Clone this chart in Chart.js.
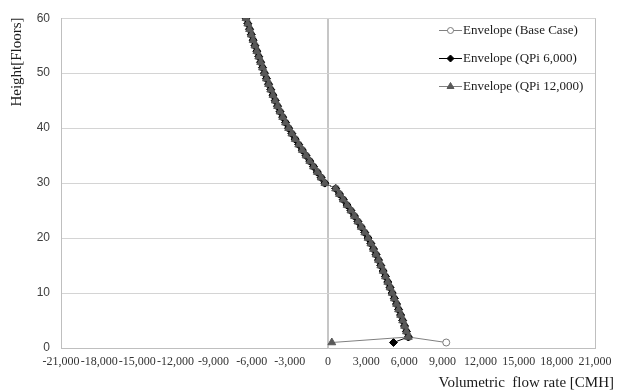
<!DOCTYPE html>
<html>
<head>
<meta charset="utf-8">
<script src="https://cdn.jsdelivr.net/npm/chart.js@4"></script>
<style>
  html, body { margin: 0; padding: 0; background: #fff; }
  #wrap { width: 628px; height: 391px; }
</style>
</head>
<body>
<div id="wrap"><canvas id="chart" width="628" height="391"></canvas></div>
<script>
// floors (y) and flow rates (x, CMH)
const floors = [
  1, 2, 3, 4, 5, 6, 7, 8, 9, 10,
  11, 12, 13, 14, 15, 16, 17, 18, 19, 20,
  21, 22, 23, 24, 25, 26, 27, 28, 29, 30,
  31, 32, 33, 34, 35, 36, 37, 38, 39, 40,
  41, 42, 43, 44, 45, 46, 47, 48, 49, 50,
  51, 52, 53, 54, 55, 56, 57, 58, 59, 60,
]

const baseCase = [
  9300, 6320, 6170, 6020, 5870, 5710, 5550, 5390, 5220, 5050,
  4880, 4700, 4520, 4340, 4150, 3970, 3780, 3580, 3370, 3150,
  2890, 2620, 2350, 2080, 1800, 1500, 1200, 900, 620, -250,
  -540, -840, -1140, -1435, -1730, -2020, -2305, -2580, -2845, -3100,
  -3340, -3565, -3775, -3970, -4150, -4330, -4505, -4675, -4840, -5000,
  -5150, -5300, -5450, -5600, -5750, -5890, -6030, -6170, -6310, -6450,
]

const qpi6000 = [
  5150, 6320, 6170, 6020, 5870, 5710, 5550, 5390, 5220, 5050,
  4880, 4700, 4520, 4340, 4150, 3970, 3780, 3580, 3370, 3150,
  2890, 2620, 2350, 2080, 1800, 1500, 1200, 900, 600, -250,
  -540, -840, -1140, -1435, -1730, -2020, -2305, -2580, -2845, -3100,
  -3340, -3565, -3775, -3970, -4150, -4330, -4505, -4675, -4840, -5000,
  -5150, -5300, -5450, -5600, -5750, -5890, -6030, -6170, -6310, -6450,
]

const qpi12000 = [
  300, 6320, 6170, 6020, 5870, 5710, 5550, 5390, 5220, 5050,
  4880, 4700, 4520, 4340, 4150, 3970, 3780, 3580, 3370, 3150,
  2890, 2620, 2350, 2080, 1800, 1500, 1200, 900, 600, -250,
  -540, -840, -1140, -1435, -1730, -2020, -2305, -2580, -2845, -3100,
  -3340, -3565, -3775, -3970, -4150, -4330, -4505, -4675, -4840, -5000,
  -5150, -5300, -5450, -5600, -5750, -5890, -6030, -6170, -6310, -6450,
]

const seriesNames = ['Envelope (Base Case)', 'Envelope (QPi 6,000)', 'Envelope (QPi 12,000)']
const xTitle = 'Volumetric  flow rate [CMH]'
const yTitle = 'Height[Floors]'

const serif = '"Liberation Serif", "Times New Roman", serif'
const sans = '"Liberation Sans", Arial, sans-serif'

function pts(values) {
  return values.map((v, i) => ({ x: v, y: floors[i] }))
}

// lower order = drawn on top, so the triangles sit over the others like in Excel
const datasets = [
  {
    label: seriesNames[0],
    data: pts(baseCase),
    order: 2,
    showLine: true,
    borderColor: '#808080',
    borderWidth: 1,
    pointStyle: 'circle',
    pointRadius: 3.5,
    pointBackgroundColor: '#ffffff',
    pointBorderColor: '#7a7a7a',
    pointBorderWidth: 1,
  },
  {
    label: seriesNames[1],
    data: pts(qpi6000),
    order: 1,
    showLine: true,
    borderColor: '#000000',
    borderWidth: 1,
    pointStyle: 'rectRot',
    pointRadius: 4,
    pointBackgroundColor: '#000000',
    pointBorderColor: '#000000',
    pointBorderWidth: 1,
  },
  {
    label: seriesNames[2],
    data: pts(qpi12000),
    order: 0,
    showLine: true,
    borderColor: '#808080',
    borderWidth: 1,
    pointStyle: 'triangle',
    pointRadius: 4.5,
    pointBackgroundColor: '#595959',
    pointBorderColor: '#595959',
    pointBorderWidth: 1,
  },
]

// axis titles + legend drawn in the Excel spots
const decor = {
  id: 'decor',
  afterDraw(chart) {
    const ctx = chart.ctx
    ctx.save()
    ctx.fillStyle = '#1a1a1a'
    ctx.font = '15px ' + serif
    ctx.textBaseline = 'middle'
    ctx.textAlign = 'right'
    ctx.fillText(xTitle, 614, 383)

    ctx.translate(17, 62)
    ctx.rotate(-Math.PI / 2)
    ctx.textAlign = 'center'
    ctx.fillText(yTitle, 0, 0)
    ctx.restore()

    ctx.save()
    ctx.font = '13px ' + serif
    ctx.textBaseline = 'middle'
    ctx.textAlign = 'left'
    chart.data.datasets.forEach((ds, i) => {
      const y = 30.5 + i * 28
      ctx.strokeStyle = ds.borderColor
      ctx.lineWidth = 1
      ctx.beginPath()
      ctx.moveTo(439, y)
      ctx.lineTo(462, y)
      ctx.stroke()
      ctx.fillStyle = ds.pointBackgroundColor
      ctx.strokeStyle = ds.pointBorderColor
      Chart.helpers.drawPoint(ctx, {
        pointStyle: ds.pointStyle,
        radius: ds.pointRadius - 0.5,
        rotation: 0,
        borderWidth: 1,
      }, 450.5, y)
      ctx.fillStyle = '#1a1a1a'
      ctx.fillText(ds.label, 463, y)
    })
    ctx.restore()
  },
}

new Chart(document.getElementById('chart'), {
  type: 'scatter',
  data: { datasets },
  plugins: [decor],
  options: {
    responsive: false,
    devicePixelRatio: 1,
    animation: false,
    layout: { padding: { top: 16, right: 33, left: 0, bottom: 0 } },
    plugins: { legend: { display: false }, tooltip: { enabled: false } },
    elements: { line: { tension: 0 } },
    scales: {
      x: {
        type: 'linear',
        min: -21000,
        max: 21000,
        afterFit: (s) => { s.height = 43 },
        afterBuildTicks: (s) => {
          s.ticks = []
          for (let v = -21000; v <= 21000; v += 3000) s.ticks.push({ value: v })
        },
        ticks: {
          autoSkip: false,
          maxRotation: 0,
          padding: 7,
          color: '#333333',
          font: { family: serif, size: 12 },
          callback: (v) => Number(v).toLocaleString('en-US'),
        },
        grid: {
          drawTicks: false,
          color: (c) => (c.tick && c.tick.value === 0 ? '#c6c6c6' : c.tick && c.tick.value === 21000 ? '#bfbfbf' : 'rgba(0,0,0,0)'),
          lineWidth: (c) => (c.tick && c.tick.value === 0 ? 2 : 1),
        },
        border: { display: true, color: '#bfbfbf', width: 1 },
      },
      y: {
        type: 'linear',
        min: 0,
        max: 60,
        afterFit: (s) => { s.width = 61 },
        ticks: {
          stepSize: 10,
          padding: 11,
          color: '#404040',
          font: { family: sans, size: 12 },
        },
        grid: { drawTicks: false, color: '#d4d4d4', lineWidth: 1 },
        border: { display: true, color: '#bfbfbf', width: 1 },
      },
    },
  },
})
</script>
</body>
</html>
